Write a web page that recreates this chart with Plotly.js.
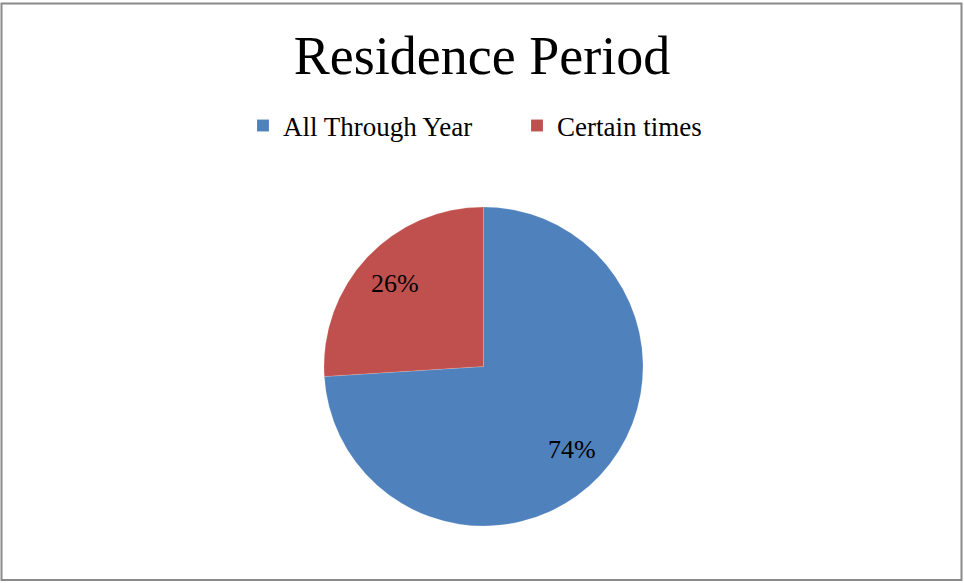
<!DOCTYPE html>
<html>
<head>
<meta charset="utf-8">
<script src="https://cdn.plot.ly/plotly-3.0.1.min.js"></script>
<style>
html,body{margin:0;padding:0;background:#fff;}
#chart{width:964px;height:583px;}
</style>
</head>
<body>
<div id="chart"></div>
<script>
var categories = ["All Through Year", "Certain times"];
var shares = [74, 26];
var colors = ["#4F81BD", "#C0504D"];
var chartTitle = "Residence Period";

var W = 964, H = 583;
var cx = 483.5, cy = 366.5, R = 159.5;
var dom = {
  x: [(cx - R) / W, (cx + R) / W],
  y: [(H - cy - R) / H, (H - cy + R) / H]
};

var total = shares.reduce(function(a, b){ return a + b; }, 0);
var annotations = [];
var cum = 0;
for (var i = 0; i < shares.length; i++) {
  var mid = (cum + shares[i] / 2) / total * 2 * Math.PI;
  cum += shares[i];
  var px = cx + 0.76 * R * Math.sin(mid);
  var py = cy - 0.76 * R * Math.cos(mid);
  annotations.push({
    xref: "paper", yref: "paper",
    x: px / W, y: (H - py) / H,
    xanchor: "center", yanchor: "middle",
    text: Math.round(shares[i] / total * 100) + "%",
    showarrow: false,
    font: {family: "Liberation Serif, serif", size: 26, color: "#000"}
  });
}

var data = [{
  type: "pie",
  labels: categories,
  values: shares,
  marker: {colors: colors, line: {color: "rgba(255,255,255,0.3)", width: 0.5}},
  sort: false,
  direction: "clockwise",
  rotation: 0,
  textinfo: "none",
  hoverinfo: "label+percent",
  domain: dom
}];

var layout = {
  width: W, height: H,
  margin: {l: 0, r: 0, t: 0, b: 0},
  paper_bgcolor: "#fff",
  title: {
    text: chartTitle,
    font: {family: "Liberation Serif, serif", size: 54, color: "#000"},
    x: 0.5, xanchor: "center",
    y: 1 - 55 / H, yanchor: "middle", yref: "container"
  },
  showlegend: true,
  legend: {
    orientation: "h",
    x: 243 / W, xanchor: "left",
    y: (H - 126) / H, yanchor: "middle",
    font: {family: "Liberation Serif, serif", size: 27, color: "#000"},
    traceorder: "normal",
    entrywidth: 229,
    entrywidthmode: "pixels",
    itemclick: false
  },
  annotations: annotations,
  shapes: [{
    type: "rect", xref: "paper", yref: "paper",
    x0: 1.5 / W, x1: 961.5 / W, y0: (H - 580) / H, y1: (H - 3.5) / H,
    line: {color: "#8a8a8a", width: 2}
  }]
};

Plotly.newPlot("chart", data, layout, {displayModeBar: false, staticPlot: true});
</script>
</body>
</html>
